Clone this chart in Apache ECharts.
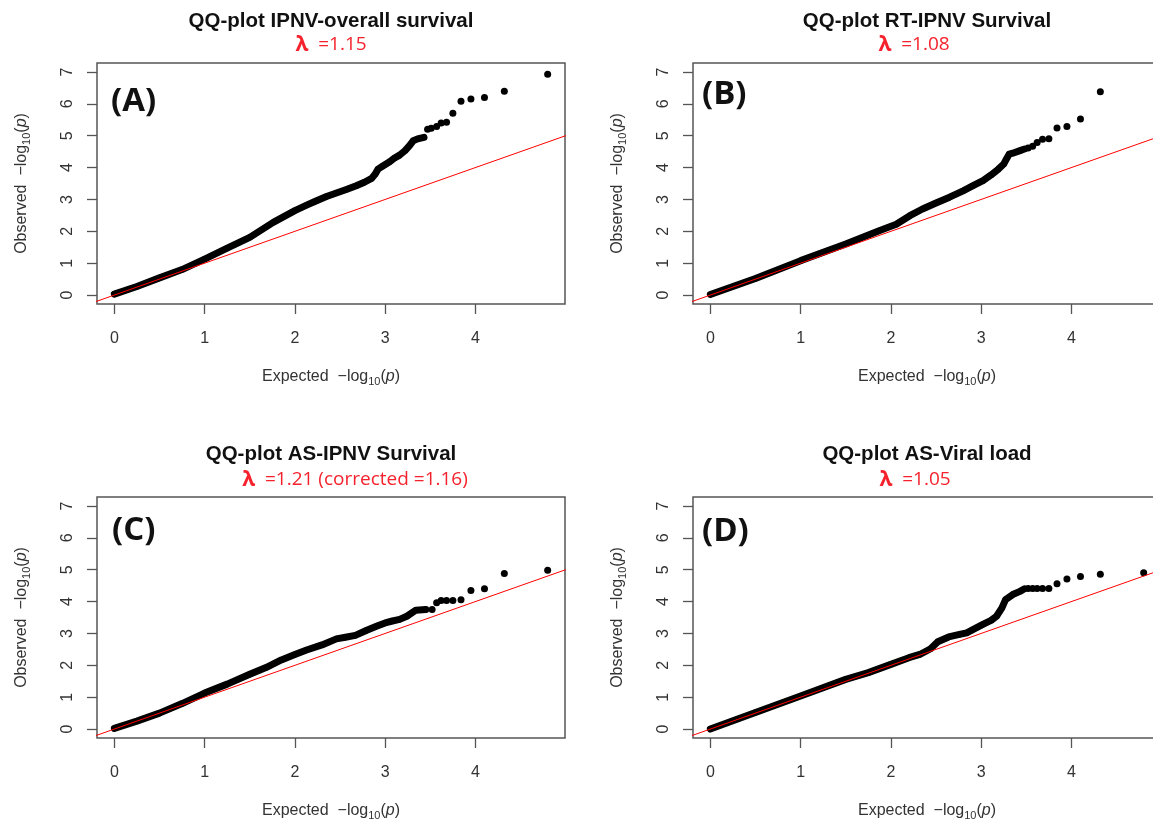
<!DOCTYPE html>
<html>
<head>
<meta charset="UTF-8">
<title>QQ-plots</title>
<style>
  html, body { margin: 0; padding: 0; background: #fff; }
  #chart { width: 1153px; height: 821px; }
</style>
</head>
<body>
<div id="chart"></div>
<script src="https://cdn.jsdelivr.net/npm/echarts@6/dist/echarts.min.js"></script>
<script>
// expected / observed -log10(p)
// dense part of each QQ curve (drawn as a thick band of points)
var expBandA = [0, 0.25, 0.5, 0.75, 1.0, 1.25, 1.5, 1.76, 2.0, 2.13, 2.24, 2.35, 2.46, 2.57, 2.68, 2.77, 2.85, 2.89, 2.92, 2.97, 3.05, 3.10, 3.16, 3.22, 3.27, 3.31, 3.36, 3.43];
var obsBandA = [0.03, 0.27, 0.54, 0.8, 1.13, 1.47, 1.81, 2.28, 2.65, 2.82, 2.96, 3.09, 3.20, 3.31, 3.43, 3.54, 3.66, 3.80, 3.95, 4.04, 4.18, 4.29, 4.39, 4.53, 4.69, 4.84, 4.90, 4.95];
var expBandB = [0, 0.5, 1.0, 1.5, 1.87, 2.06, 2.21, 2.35, 2.50, 2.65, 2.80, 2.91, 3.02, 3.11, 3.19, 3.25, 3.28, 3.31, 3.35, 3.43, 3.48];
var obsBandB = [0.02, 0.52, 1.08, 1.60, 2.02, 2.22, 2.49, 2.70, 2.89, 3.07, 3.27, 3.43, 3.59, 3.77, 3.95, 4.11, 4.27, 4.42, 4.45, 4.53, 4.58];
var expBandC = [0, 0.25, 0.5, 0.75, 1.0, 1.25, 1.5, 1.68, 1.85, 2.0, 2.13, 2.30, 2.46, 2.56, 2.67, 2.79, 2.91, 3.00, 3.08, 3.16, 3.24, 3.34, 3.45];
var obsBandC = [0.02, 0.25, 0.5, 0.8, 1.13, 1.41, 1.72, 1.93, 2.17, 2.34, 2.48, 2.64, 2.83, 2.88, 2.94, 3.09, 3.23, 3.33, 3.39, 3.44, 3.54, 3.73, 3.75];
var expBandD = [0, 0.5, 1.0, 1.5, 1.75, 2.0, 2.20, 2.32, 2.44, 2.52, 2.64, 2.76, 2.84, 2.95, 3.03, 3.11, 3.17, 3.23, 3.27, 3.35, 3.43, 3.48];
var obsBandD = [0, 0.52, 1.04, 1.56, 1.77, 2.03, 2.24, 2.34, 2.52, 2.74, 2.89, 2.97, 3.02, 3.18, 3.30, 3.41, 3.54, 3.80, 4.06, 4.22, 4.32, 4.40];

// the separate top points
var expTailA = [3.47, 3.51, 3.57, 3.62, 3.68, 3.75, 3.84, 3.95, 4.10, 4.32, 4.80];
var obsTailA = [5.20, 5.23, 5.29, 5.40, 5.42, 5.70, 6.08, 6.15, 6.20, 6.39, 6.93];
var expTailB = [3.52, 3.57, 3.62, 3.68, 3.75, 3.84, 3.95, 4.10, 4.32];
var obsTailB = [4.61, 4.67, 4.79, 4.89, 4.90, 5.24, 5.29, 5.52, 6.38];
var expTailC = [3.52, 3.57, 3.62, 3.68, 3.75, 3.84, 3.95, 4.10, 4.32, 4.80];
var obsTailC = [3.75, 3.96, 4.03, 4.03, 4.03, 4.06, 4.35, 4.40, 4.88, 4.98];
var expTailD = [3.52, 3.57, 3.62, 3.68, 3.75, 3.84, 3.95, 4.10, 4.32, 4.80];
var obsTailD = [4.41, 4.41, 4.41, 4.41, 4.41, 4.56, 4.71, 4.79, 4.86, 4.90];

var xTicks = [0, 1, 2, 3, 4];
var yTicks = [0, 1, 2, 3, 4, 5, 6, 7];
var refLine = [-1, 6];   // y = x

var titles = ['QQ-plot IPNV-overall survival', 'QQ-plot RT-IPNV Survival', 'QQ-plot AS-IPNV Survival', 'QQ-plot AS-Viral load'];
var lambdas = ['=1.15', '=1.08', '=1.21 (corrected =1.16)', '=1.05'];
var tags = ['(A)', '(B)', '(C)', '(D)'];

var bands = [[expBandA, obsBandA], [expBandB, obsBandB], [expBandC, obsBandC], [expBandD, obsBandD]];
var tails = [[expTailA, obsTailA], [expTailB, obsTailB], [expTailC, obsTailC], [expTailD, obsTailD]];

// layout of the four panels
var boxes = [
    {left: 97, top: 63, cx: 331, lx: 331, ty: 21, ly: 45, tagX: 111, tagY: 102},
    {left: 693, top: 63, cx: 927, lx: 914, ty: 21, ly: 45, tagX: 702, tagY: 95},
    {left: 97, top: 497, cx: 331, lx: 355, ty: 454, ly: 480, tagX: 112, tagY: 531},
    {left: 693, top: 497, cx: 927, lx: 915, ty: 454, ly: 480, tagX: 702, tagY: 532}
];

function pairs(xs, ys) {
    return xs.map(function (x, i) { return [x, ys[i]]; });
}

var labelFont = 'Liberation Sans';
var nameRich = {
    n: {fontSize: 16, fontFamily: labelFont, color: '#333', lineHeight: 20, verticalAlign: 'middle'},
    s: {fontSize: 11, fontFamily: labelFont, color: '#333', lineHeight: 8, verticalAlign: 'bottom'},
    i: {fontSize: 16, fontFamily: labelFont, color: '#333', fontStyle: 'italic', lineHeight: 20, verticalAlign: 'middle'}
};

var grids = [], xAxes = [], yAxes = [], series = [], graphics = [];

boxes.forEach(function (b, k) {
    grids.push({
        left: b.left, top: b.top, width: 468, height: 241,
        show: true, borderColor: '#555', borderWidth: 1.5,
        containLabel: false, outerBoundsMode: 'none'
    });
    xAxes.push({
        gridIndex: k, type: 'value', min: -0.192, max: 4.992,
        axisLine: {show: false, onZero: false}, splitLine: {show: false},
        axisTick: {customValues: xTicks, length: 10, lineStyle: {color: '#555', width: 1.3}},
        axisLabel: {customValues: xTicks, margin: 27, fontSize: 16, fontFamily: labelFont, color: '#333'},
        name: '{n|Expected  \u2212log}{s|10}{n|(}{i|p}{n|)}',
        nameLocation: 'middle', nameGap: 63, nameMoveOverlap: false,
        nameTextStyle: {rich: nameRich}
    });
    yAxes.push({
        gridIndex: k, type: 'value', min: -0.28, max: 7.28,
        axisLine: {show: false, onZero: false}, splitLine: {show: false},
        axisTick: {customValues: yTicks, length: 10, lineStyle: {color: '#555', width: 1.3}},
        axisLabel: {customValues: yTicks, margin: 21, rotate: 90, fontSize: 16, fontFamily: labelFont, color: '#333'},
        name: '{n|Observed  \u2212log}{s|10}{n|(}{i|p}{n|)}',
        nameLocation: 'middle', nameGap: 65, nameMoveOverlap: false,
        nameTextStyle: {rich: nameRich}
    });
    series.push({
        type: 'line', xAxisIndex: k, yAxisIndex: k,
        data: pairs(bands[k][0], bands[k][1]),
        symbol: 'circle', symbolSize: 6, showSymbol: true,
        itemStyle: {color: '#000'},
        lineStyle: {color: '#000', width: 7, cap: 'round', join: 'round'},
        z: 2
    });
    series.push({
        type: 'scatter', xAxisIndex: k, yAxisIndex: k,
        data: pairs(tails[k][0], tails[k][1]),
        symbol: 'circle', symbolSize: 7,
        itemStyle: {color: '#000', opacity: 1},
        z: 2
    });
    series.push({
        type: 'line', xAxisIndex: k, yAxisIndex: k,
        data: refLine.map(function (v) { return [v, v]; }),
        symbol: 'none', clip: true,
        lineStyle: {color: '#ff0000', width: 1},
        z: 3
    });
    graphics.push({
        type: 'text', x: b.cx, y: b.ty,
        style: {text: titles[k], font: 'bold 20.5px "Liberation Sans"', fill: '#111', align: 'center', verticalAlign: 'middle'}
    });
    graphics.push({
        type: 'text', x: b.lx, y: b.ly,
        style: {
            text: '{l|\u03bb}  ' + lambdas[k],
            font: '19px "Open Sans"', fill: '#f5222d', align: 'center', verticalAlign: 'middle',
            rich: {l: {font: 'bold 21px "Open Sans"', fill: '#f5222d'}}
        }
    });
    graphics.push({
        type: 'text', x: b.tagX, y: b.tagY,
        style: {text: tags[k], font: 'bold 33px "Open Sans"', fill: '#111', align: 'left', verticalAlign: 'middle'}
    });
});

var chart = echarts.init(document.getElementById('chart'));
chart.setOption({
    animation: false,
    backgroundColor: '#fff',
    grid: grids,
    xAxis: xAxes,
    yAxis: yAxes,
    series: series,
    graphic: graphics
});
</script>
</body>
</html>
